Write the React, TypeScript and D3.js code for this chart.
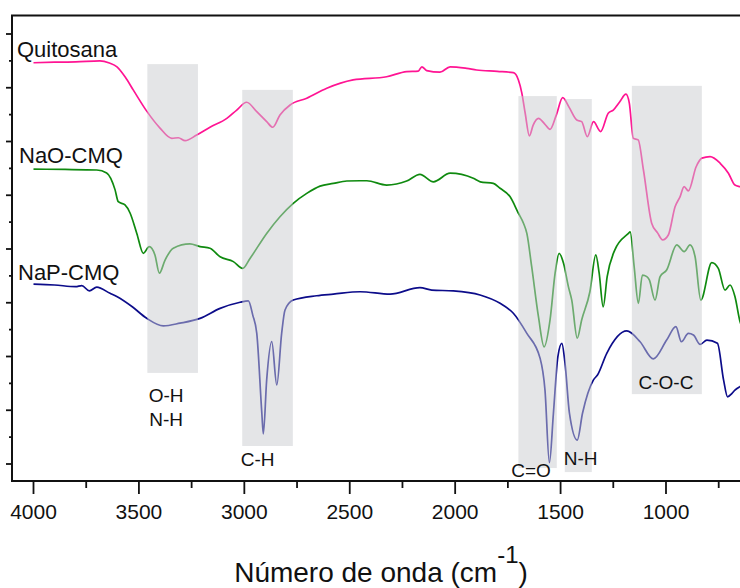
import { useEffect, useRef } from "react";
import * as d3 from "d3";

// FTIR spectra (transmittance, arbitrary units) — wavenumber in cm-1
const QUITOSANA: [number, number][] = [
  [4000, 14.93], [3900, 14.95], [3800, 14.96], [3685, 15.0], [3640, 14.92], [3604, 14.78],
  [3565, 14.4], [3527, 13.92], [3463, 13.13], [3400, 12.5], [3344, 12.12], [3313, 12.14],
  [3281, 12.03], [3226, 12.24], [3163, 12.53], [3083, 12.86], [3036, 13.17], [2989, 13.46],
  [2941, 13.11], [2894, 12.74], [2865, 12.53], [2831, 12.99], [2783, 13.36], [2704, 13.61],
  [2609, 13.98], [2484, 14.29], [2325, 14.41], [2230, 14.6], [2175, 14.62], [2158, 14.78],
  [2135, 14.64], [2072, 14.58], [2024, 14.78], [1945, 14.72], [1898, 14.66], [1800, 14.61],
  [1724, 14.56], [1700, 14.29], [1684, 13.81], [1668, 13.06], [1648, 12.21], [1630, 12.61],
  [1605, 12.86], [1575, 12.65], [1550, 12.45], [1520, 12.99], [1490, 13.63], [1460, 13.28],
  [1423, 12.8], [1400, 12.74], [1373, 12.18], [1344, 12.74], [1310, 12.37], [1274, 13.05],
  [1250, 13.17], [1220, 13.47], [1190, 13.76], [1174, 13.43], [1155, 12.12], [1132, 12.06],
  [1107, 10.94], [1068, 8.96], [1040, 8.6], [1016, 8.34], [989, 8.52], [957, 9.57],
  [933, 9.95], [914, 10.32], [894, 10.16], [857, 11.06], [830, 11.38], [791, 11.44],
  [743, 11.19], [704, 10.82], [673, 10.38], [649, 10.32], [620, 10.27],
];

const NAO_CMQ: [number, number][] = [
  [4000, 10.97], [3850, 10.96], [3700, 10.94], [3653, 10.83], [3613, 10.2], [3598, 9.76],
  [3566, 9.64], [3542, 9.34], [3510, 8.58], [3479, 7.84], [3451, 8.09], [3424, 7.78],
  [3403, 7.1], [3376, 7.59], [3337, 8.03], [3258, 8.19], [3210, 8.09], [3163, 8.03],
  [3115, 7.71], [3052, 7.53], [3008, 7.28], [2973, 7.65], [2894, 8.58], [2831, 9.2],
  [2768, 9.7], [2704, 10.07], [2641, 10.34], [2578, 10.44], [2514, 10.53], [2451, 10.54],
  [2419, 10.54], [2325, 10.38], [2230, 10.53], [2167, 10.78], [2103, 10.5], [2024, 10.82],
  [1914, 10.63], [1881, 10.5], [1819, 10.44], [1787, 10.26], [1740, 9.95], [1700, 9.33],
  [1676, 8.96], [1660, 8.58], [1637, 7.34], [1605, 5.48], [1578, 4.36], [1550, 5.36],
  [1526, 7.1], [1507, 7.84], [1486, 7.47], [1463, 6.6], [1447, 6.1], [1421, 4.68],
  [1400, 5.36], [1361, 6.41], [1333, 7.78], [1317, 7.1], [1298, 5.85], [1279, 6.97],
  [1243, 7.96], [1178, 8.58], [1170, 8.64], [1151, 7.34], [1131, 5.98], [1112, 7.03],
  [1091, 6.97], [1079, 6.85], [1052, 6.1], [1028, 6.97], [997, 7.22], [949, 8.15],
  [914, 7.9], [886, 8.15], [862, 7.71], [835, 6.1], [783, 7.49], [752, 7.28],
  [720, 6.47], [696, 6.66], [673, 6.23], [649, 5.3], [620, 4.9],
];

const NAP_CMQ: [number, number][] = [
  [4000, 6.69], [3900, 6.66], [3800, 6.6], [3771, 6.64], [3735, 6.44], [3700, 6.58],
  [3637, 6.35], [3605, 6.23], [3530, 5.84], [3463, 5.42], [3384, 5.14], [3305, 5.24],
  [3210, 5.42], [3115, 5.79], [3020, 6.02], [2981, 6.07], [2960, 5.54], [2941, 4.86],
  [2917, 1.89], [2910, 1.12], [2894, 3.13], [2870, 4.55], [2846, 2.94], [2823, 4.86],
  [2807, 5.73], [2768, 6.1], [2657, 6.26], [2578, 6.32], [2451, 6.41], [2309, 6.32],
  [2167, 6.56], [2111, 6.47], [2009, 6.44], [1882, 6.29], [1787, 5.98], [1724, 5.61],
  [1660, 4.86], [1597, 3.93], [1574, 2.75], [1553, 0.05], [1534, 1.89], [1513, 3.99],
  [1494, 4.49], [1479, 3.75], [1458, 1.89], [1421, 0.89], [1396, 1.89], [1344, 3.13],
  [1325, 3.31], [1281, 4.12], [1186, 4.95], [1123, 4.55], [1060, 3.91], [997, 4.61],
  [953, 5.11], [927, 4.55], [894, 4.86], [870, 4.8], [838, 4.45], [806, 4.61],
  [756, 4.49], [727, 3.13], [708, 2.5], [687, 2.63], [673, 2.75], [649, 2.88], [620, 3.0],
];

const SERIES_NAMES = ["Quitosana", "NaO-CMQ", "NaP-CMQ"];
const SERIES_DATA = [QUITOSANA, NAO_CMQ, NAP_CMQ];
const SERIES_COLORS = ["#ff1493", "#0f8a0f", "#0c0c8a"];

// highlighted bands: [from wn, to wn, top, bottom] (same units as spectra)
const BANDS: [number, number, number, number][] = [
  [3460, 3220, 14.88, 3.39],
  [3010, 2770, 13.92, 0.67],
  [1700, 1518, 13.69, -0.15],
  [1480, 1352, 13.58, -0.3],
  [1162, 830, 14.07, 2.6],
];

// band labels: [text, wn center, value at baseline]
const BAND_LABELS: [string, number, number][] = [
  ["O-H", 3371, 2.3],
  ["N-H", 3371, 1.41],
  ["C-H", 2937, -0.07],
  ["C=O", 1640, -0.48],
  ["N-H", 1405, -0.04],
  ["C-O-C", 1000, 2.79],
];

const X_TICKS = [4000, 3500, 3000, 2500, 2000, 1500, 1000];
const X_MINOR = [3750, 3250, 2750, 2250, 1750, 1250, 750];
const Y_TICKS = d3.range(0, 17);

const W = 740;
const H = 588;
const FRAME = { left: 12, top: 15.5, bottom: 481 };
const FONT = "Arial, 'Liberation Sans', Helvetica, sans-serif";

export default function App() {
  const svgRef = useRef<SVGSVGElement | null>(null);

  useEffect(() => {
    const svg = d3.select(svgRef.current);
    svg.selectAll("*").remove();

    const x = d3.scaleLinear().domain([4000, 1000]).range([33.5, 666]);
    const y = d3.scaleLinear().domain([0, 16]).range([464, 34]);

    svg
      .append("defs")
      .append("clipPath")
      .attr("id", "plot-clip")
      .append("rect")
      .attr("x", FRAME.left)
      .attr("y", FRAME.top)
      .attr("width", W - FRAME.left)
      .attr("height", FRAME.bottom - FRAME.top);

    const plot = svg.append("g").attr("clip-path", "url(#plot-clip)");

    const line = d3
      .line<[number, number]>()
      .x((d) => x(d[0]))
      .y((d) => y(d[1]))
      .curve(d3.curveMonotoneX);

    SERIES_DATA.forEach((data, i) => {
      plot
        .append("path")
        .attr("d", line(data))
        .attr("fill", "none")
        .attr("stroke", SERIES_COLORS[i])
        .attr("stroke-width", 1.7)
        .attr("stroke-linejoin", "round");
    });

    // translucent grey bands drawn over the spectra
    plot
      .selectAll("rect.band")
      .data(BANDS)
      .join("rect")
      .attr("class", "band")
      .attr("x", (d) => x(d[0]))
      .attr("width", (d) => x(d[1]) - x(d[0]))
      .attr("y", (d) => y(d[2]))
      .attr("height", (d) => y(d[3]) - y(d[2]))
      .attr("fill", "#c9cbd0")
      .attr("opacity", 0.5);

    svg
      .selectAll("text.band-label")
      .data(BAND_LABELS)
      .join("text")
      .attr("class", "band-label")
      .attr("x", (d) => x(d[1]))
      .attr("y", (d) => y(d[2]))
      .attr("text-anchor", "middle")
      .attr("font-family", FONT)
      .attr("font-size", 19)
      .attr("fill", "#111")
      .text((d) => d[0]);

    // series names
    const nameY = [57, 163, 280];
    const nameX = [17, 19, 18];
    SERIES_NAMES.forEach((n, i) => {
      svg
        .append("text")
        .attr("x", nameX[i])
        .attr("y", nameY[i])
        .attr("font-family", FONT)
        .attr("font-size", 22)
        .attr("fill", "#111")
        .text(n);
    });

    // frame
    const axisG = svg.append("g").attr("stroke", "#111").attr("stroke-width", 2);
    axisG
      .append("path")
      .attr("fill", "none")
      .attr("d", `M${W},${FRAME.top}H${FRAME.left}V${FRAME.bottom}H${W}`);

    // y ticks (outward, left)
    axisG
      .selectAll("line.ytick")
      .data(Y_TICKS)
      .join("line")
      .attr("x1", (d) => FRAME.left - (d % 2 === 0 ? 6 : 3))
      .attr("x2", FRAME.left)
      .attr("y1", (d) => y(d))
      .attr("y2", (d) => y(d))
      .attr("stroke-width", 1.8);

    // x ticks
    axisG
      .selectAll("line.xtick")
      .data(X_TICKS)
      .join("line")
      .attr("x1", (d) => x(d))
      .attr("x2", (d) => x(d))
      .attr("y1", FRAME.bottom)
      .attr("y2", FRAME.bottom + 13)
      .attr("stroke-width", 1.8);
    axisG
      .selectAll("line.xminor")
      .data(X_MINOR)
      .join("line")
      .attr("x1", (d) => x(d))
      .attr("x2", (d) => x(d))
      .attr("y1", FRAME.bottom)
      .attr("y2", FRAME.bottom + 7)
      .attr("stroke-width", 1.8);

    svg
      .selectAll("text.xlabel")
      .data(X_TICKS)
      .join("text")
      .attr("class", "xlabel")
      .attr("x", (d) => x(d))
      .attr("y", 519)
      .attr("text-anchor", "middle")
      .attr("font-family", FONT)
      .attr("font-size", 21)
      .attr("fill", "#111")
      .text((d) => d);

    const title = svg
      .append("text")
      .attr("x", 381)
      .attr("y", 582)
      .attr("text-anchor", "middle")
      .attr("font-family", FONT)
      .attr("font-size", 28)
      .attr("fill", "#111");
    title.append("tspan").text("Número de onda (cm");
    title.append("tspan").attr("dy", -19).attr("font-size", 24).text("-1");
    title.append("tspan").attr("dy", 19).text(")");
  }, []);

  return (
    <svg
      ref={svgRef}
      width={W}
      height={H}
      style={{ position: "absolute", left: 0, top: 0, background: "#fff" }}
    />
  );
}
